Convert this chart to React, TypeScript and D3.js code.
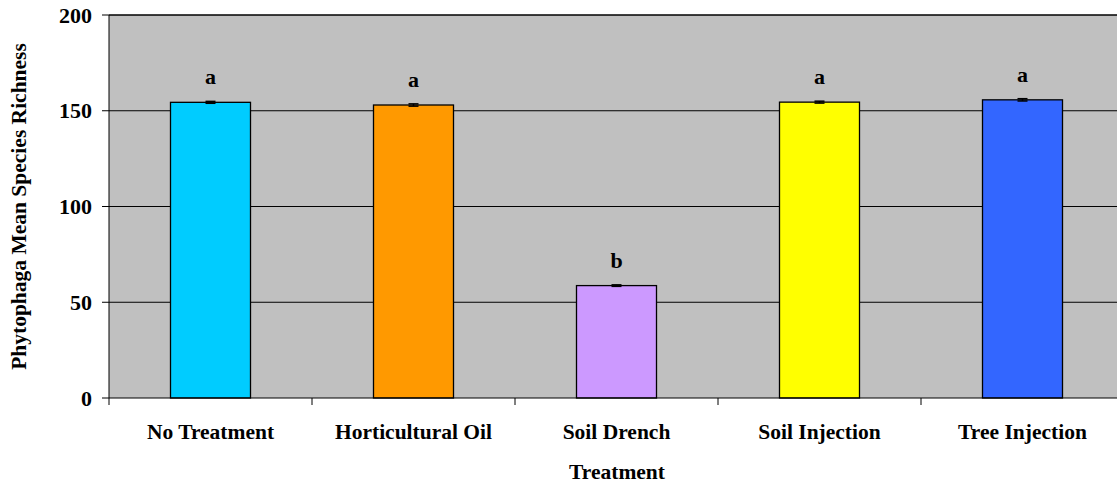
import React from "react";
import * as d3 from "d3";

const categories = ["No Treatment", "Horticultural Oil", "Soil Drench", "Soil Injection", "Tree Injection"];
const values = [154.4, 153.0, 58.7, 154.5, 155.7];
const errors = [0.5, 0.6, 0.4, 0.5, 0.6];
const letters = ["a", "a", "b", "a", "a"];
const colors = ["#00CCFF", "#FF9900", "#CC99FF", "#FFFF00", "#3366FF"];
const yTicks = [0, 50, 100, 150, 200];

export default function App() {
  const W = 1117, H = 486;
  const band = 203;
  const left = 109, right = 1117, top = 15, bottom = 398;
  const x = d3.scaleBand<string>().domain(categories).range([left, left + 5 * band]).paddingInner(0).paddingOuter(0);
  const y = d3.scaleLinear().domain([0, 200]).range([bottom, top]);
  const barW = 80;
  const font = "'Liberation Serif', 'Times New Roman', serif";
  return (
    <svg width={W} height={H} style={{ position: "absolute", left: 0, top: 0 }}>
      <rect x={left} y={top} width={right - left} height={bottom - top} fill="#C0C0C0" />
      {yTicks.map((t) => (
        <g key={t}>
          {t > 0 && <line x1={left} x2={right} y1={y(t)} y2={y(t)} stroke="#000" strokeWidth={1} />}
          <line x1={left - 7} x2={left} y1={y(t)} y2={y(t)} stroke="#000" strokeWidth={1} />
          <text x={left - 17} y={y(t)} dy="0.35em" textAnchor="end" fontFamily={font} fontWeight="bold" fontSize={22}>{t}</text>
        </g>
      ))}
      {categories.map((c, i) => {
        const cx = (x(c) as number) + x.bandwidth() / 2;
        const v = values[i];
        return (
          <g key={c}>
            <rect x={cx - barW / 2} y={y(v)} width={barW} height={bottom - y(v)} fill={colors[i]} stroke="#000" strokeWidth={1.3} />
            <line x1={cx} x2={cx} y1={y(v + errors[i])} y2={y(v - errors[i])} stroke="#000" strokeWidth={1.5} />
            <line x1={cx - 5} x2={cx + 5} y1={y(v + errors[i])} y2={y(v + errors[i])} stroke="#000" strokeWidth={1.5} />
            <line x1={cx - 5} x2={cx + 5} y1={y(v - errors[i])} y2={y(v - errors[i])} stroke="#000" strokeWidth={1.5} />
            <text x={cx} y={y(v) - 18} textAnchor="middle" fontFamily={font} fontWeight="bold" fontSize={22}>{letters[i]}</text>
            <text x={cx} y={439} textAnchor="middle" fontFamily={font} fontWeight="bold" fontSize={21.5}>{c}</text>
          </g>
        );
      })}
      {d3.range(categories.length + 1).map((i) => (
        <line key={i} x1={left + i * band} x2={left + i * band} y1={bottom} y2={bottom + 7} stroke="#000" strokeWidth={1} />
      ))}
      <line x1={left} x2={left} y1={top} y2={bottom} stroke="#000" strokeWidth={1} />
      <line x1={left} x2={right} y1={bottom} y2={bottom} stroke="#000" strokeWidth={1} />
      <line x1={left} x2={right} y1={top} y2={top} stroke="#000" strokeWidth={1} />
      <text x={617} y={479} textAnchor="middle" fontFamily={font} fontWeight="bold" fontSize={21.5}>Treatment</text>
      <text transform={`translate(26, ${(top + bottom) / 2}) rotate(-90)`} textAnchor="middle" fontFamily={font} fontWeight="bold" fontSize={21.5}>Phytophaga Mean Species Richness</text>
    </svg>
  );
}
